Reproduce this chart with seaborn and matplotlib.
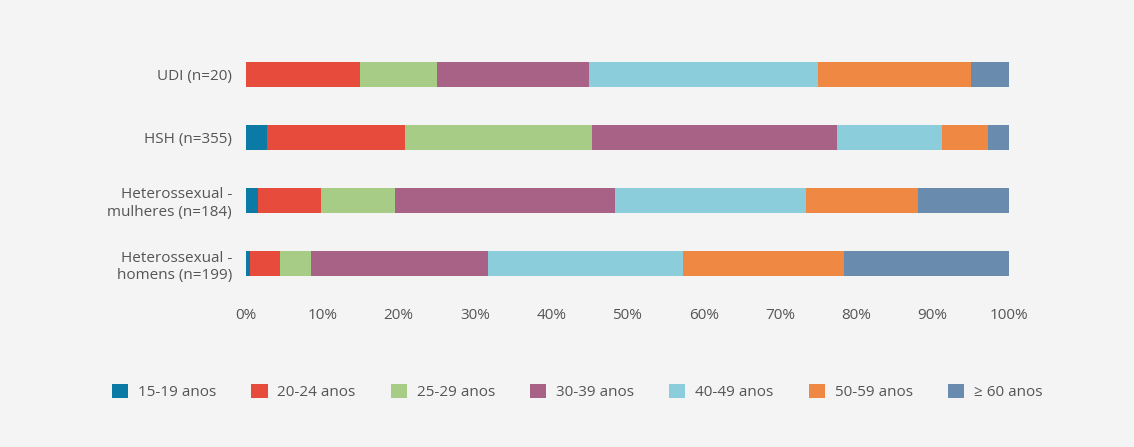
import matplotlib
matplotlib.use("Agg")
import matplotlib.pyplot as plt
import seaborn as sns
import pandas as pd
import numpy as np
from matplotlib.patches import Patch

# categories (top to bottom) and counts per age group
groups = ['UDI (n=20)', 'HSH (n=355)', 'Heterossexual -\nmulheres (n=184)', 'Heterossexual -\nhomens (n=199)']
totals = [20, 355, 184, 199]
age_labels = ['15-19 anos', '20-24 anos', '25-29 anos', '30-39 anos', '40-49 anos', '50-59 anos', '\u2265 60 anos']
counts_15_19 = [0, 10, 3, 1]
counts_20_24 = [3, 64, 15, 8]
counts_25_29 = [2, 87, 18, 8]
counts_30_39 = [4, 114, 53, 46]
counts_40_49 = [6, 49, 46, 51]
counts_50_59 = [4, 21, 27, 42]
counts_60 = [1, 10, 22, 43]
colors = ['#0b7ba6', '#e64b3b', '#a6cc86', '#a76286', '#8ccddb', '#ee8843', '#688bae']

bg = '#f4f4f4'
txt = '#555555'

sns.set_theme(style='white')
plt.rcParams['font.family'] = ['Open Sans', 'DejaVu Sans']

counts = np.array([counts_15_19, counts_20_24, counts_25_29, counts_30_39,
                   counts_40_49, counts_50_59, counts_60], dtype=float)
pct = counts / np.array(totals, dtype=float) * 100
cum = np.cumsum(pct, axis=0)

fig = plt.figure(figsize=(11.34, 4.47), dpi=100, facecolor=bg)
ax = fig.add_axes([0.2169, 0.340, 0.6729, 0.564])
ax.set_facecolor(bg)

# stacked bars: draw cumulative totals from the widest down
for i in range(len(age_labels) - 1, -1, -1):
    df = pd.DataFrame({'grupo': groups, 'valor': cum[i]})
    sns.barplot(data=df, x='valor', y='grupo', orient='h', color=colors[i],
                width=0.4, saturation=1, ax=ax, order=groups, linewidth=0)

ax.set_xlim(0, 100)
ax.set_ylim(3.5, -0.5)
ax.set_xticks(np.arange(0, 101, 10))
ax.set_xticklabels([f'{v}%' for v in range(0, 101, 10)])
ax.set_xlabel('')
ax.set_ylabel('')
for s in ax.spines.values():
    s.set_visible(False)
ax.tick_params(axis='both', length=0, labelsize=11, colors=txt)
ax.tick_params(axis='x', pad=9)
ax.tick_params(axis='y', pad=10)
for t in ax.get_yticklabels():
    t.set_horizontalalignment('right')
    t.set_multialignment('right')

handles = [Patch(facecolor=c, edgecolor='none') for c in colors]
leg = fig.legend(handles, age_labels, loc='center', bbox_to_anchor=(0.509, 0.123),
                 ncol=7, frameon=False, fontsize=11, handlelength=1.05,
                 handleheight=1.05, handletextpad=0.65, columnspacing=2.3)
for t in leg.get_texts():
    t.set_color(txt)

fig.savefig('out.png', dpi=100, facecolor=bg)
